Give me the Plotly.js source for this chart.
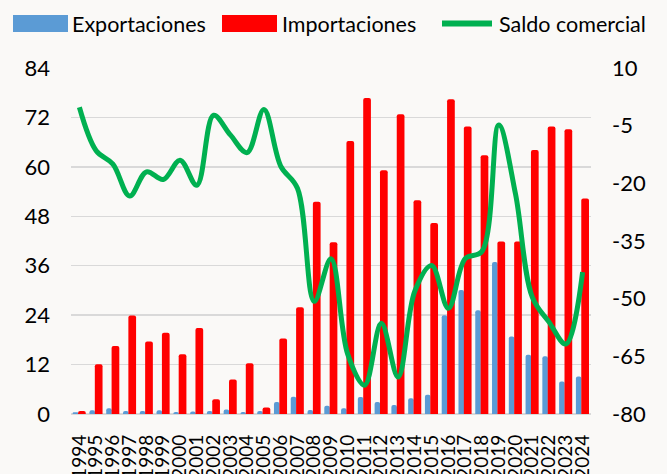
<!DOCTYPE html>
<html>
<head>
<meta charset="utf-8">
<script src="https://cdn.plot.ly/plotly-3.0.1.min.js"></script>
<style>
  html, body { margin: 0; padding: 0; background: #FAF9F7; }
  #chart { width: 667px; height: 474px; }
</style>
</head>
<body>
<div id="chart"></div>
<script>
var years = ["1994","1995","1996","1997","1998","1999","2000","2001","2002","2003","2004","2005","2006","2007","2008","2009","2010","2011","2012","2013","2014","2015","2016","2017","2018","2019","2020","2021","2022","2023","2024"];
var exportaciones = [0.4, 0.9, 1.4, 0.7, 0.7, 0.9, 0.5, 0.6, 0.7, 1.1, 0.5, 0.7, 2.9, 4.2, 1.0, 2.0, 1.4, 4.1, 2.9, 2.2, 3.8, 4.7, 24.0, 30.1, 25.2, 36.9, 18.8, 14.4, 14.0, 7.9, 9.1];
var importaciones = [0.7, 12.1, 16.5, 23.9, 17.6, 19.7, 14.5, 20.9, 3.6, 8.4, 12.3, 1.6, 18.3, 25.9, 51.5, 41.7, 66.3, 76.7, 59.2, 72.8, 51.9, 46.4, 76.4, 69.8, 62.8, 41.9, 41.9, 64.1, 69.8, 69.1, 52.3];
var saldo = [-0.2, -11.5, -15.0, -23.3, -17.0, -19.0, -14.0, -20.5, -2.3, -7.4, -12.0, -0.8, -15.5, -21.3, -50.7, -39.6, -64.5, -72.5, -56.4, -70.4, -48.0, -41.4, -52.5, -39.6, -37.7, -4.8, -22.8, -49.6, -56.1, -61.8, -43.1];
var leftTicks = [0, 12, 24, 36, 48, 60, 72, 84];
var rightTicks = [-80, -65, -50, -35, -20, -5, 10];
var legendNames = ["Exportaciones", "Importaciones", "Saldo comercial"];

var FONT = "Lato, Carlito, Calibri, sans-serif";
var BLUE = "#5B9BD5", RED = "#FF0000", GREEN = "#00B050";

var traces = [
  { type: "bar", name: legendNames[0], x: years, y: exportaciones,
    offset: -0.40, width: 0.33, marker: { color: BLUE, cornerradius: 2 },
    yaxis: "y", showlegend: false, hoverinfo: "x+y" },
  { type: "bar", name: legendNames[1], x: years, y: importaciones,
    offset: -0.08, width: 0.46, marker: { color: RED, cornerradius: 2 },
    yaxis: "y", showlegend: false, hoverinfo: "x+y" },
  { type: "scatter", mode: "lines", name: legendNames[2], x: years, y: saldo,
    line: { color: GREEN, width: 5, shape: "spline", smoothing: 1 },
    yaxis: "y2", showlegend: false }
];

// plot area in pixels: x 71..591, y 68..414
var L = 71, R = 591, T = 68, B = 414;
function px(x) { return (x - L) / (R - L); }
function py(y) { return (B - y) / (B - T); }

var shapes = [
  { type: "rect", xref: "paper", yref: "paper", x0: px(13), x1: px(68), y0: py(32), y1: py(15),
    fillcolor: BLUE, line: { width: 0 } },
  { type: "rect", xref: "paper", yref: "paper", x0: px(222), x1: px(277), y0: py(32), y1: py(15),
    fillcolor: RED, line: { width: 0 } },
  { type: "line", xref: "paper", yref: "paper", x0: px(442), x1: px(492), y0: py(23.5), y1: py(23.5),
    line: { color: GREEN, width: 6 } }
];
var annotations = [
  { text: legendNames[0], x: px(70), y: py(23.5), xref: "paper", yref: "paper", xanchor: "left", yanchor: "middle", showarrow: false, font: { family: FONT, size: 21.5, color: "#000" } },
  { text: legendNames[1], x: px(280), y: py(23.5), xref: "paper", yref: "paper", xanchor: "left", yanchor: "middle", showarrow: false, font: { family: FONT, size: 21.5, color: "#000" } },
  { text: legendNames[2], x: px(497), y: py(23.5), xref: "paper", yref: "paper", xanchor: "left", yanchor: "middle", showarrow: false, font: { family: FONT, size: 21.5, color: "#000" } }
];

var layout = {
  width: 667, height: 474,
  margin: { l: L, r: 667 - R, t: T, b: 474 - B, pad: 0 },
  paper_bgcolor: "#FAF9F7", plot_bgcolor: "#FAF9F7",
  barmode: "overlay",
  showlegend: false,
  font: { family: FONT, color: "#000" },
  xaxis: {
    type: "category", range: [-0.5, 30.5],
    tickmode: "array", tickvals: years, ticktext: years,
    tickangle: -90, ticks: "", ticklabelstandoff: 16,
    tickfont: { family: FONT, size: 19, color: "#000" },
    showgrid: false, showline: false, zeroline: false, fixedrange: true
  },
  yaxis: {
    range: [0, 84], tickvals: leftTicks, ticktext: leftTicks.map(String),
    ticks: "", ticklabelstandoff: 20,
    tickfont: { family: FONT, size: 22, color: "#000" },
    showgrid: true, gridcolor: "#D9D9D9", gridwidth: 1.5,
    zeroline: true, zerolinecolor: "#D9D9D9", zerolinewidth: 2,
    showline: false, fixedrange: true
  },
  yaxis2: {
    overlaying: "y", side: "right",
    range: [-80, 10], tickvals: rightTicks, ticktext: rightTicks.map(String),
    ticks: "", ticklabelstandoff: 20,
    tickfont: { family: FONT, size: 22, color: "#000" },
    showgrid: false, zeroline: false, showline: false, fixedrange: true
  },
  shapes: shapes,
  annotations: annotations
};

Plotly.newPlot("chart", traces, layout, { displayModeBar: false, staticPlot: true });
</script>
</body>
</html>
